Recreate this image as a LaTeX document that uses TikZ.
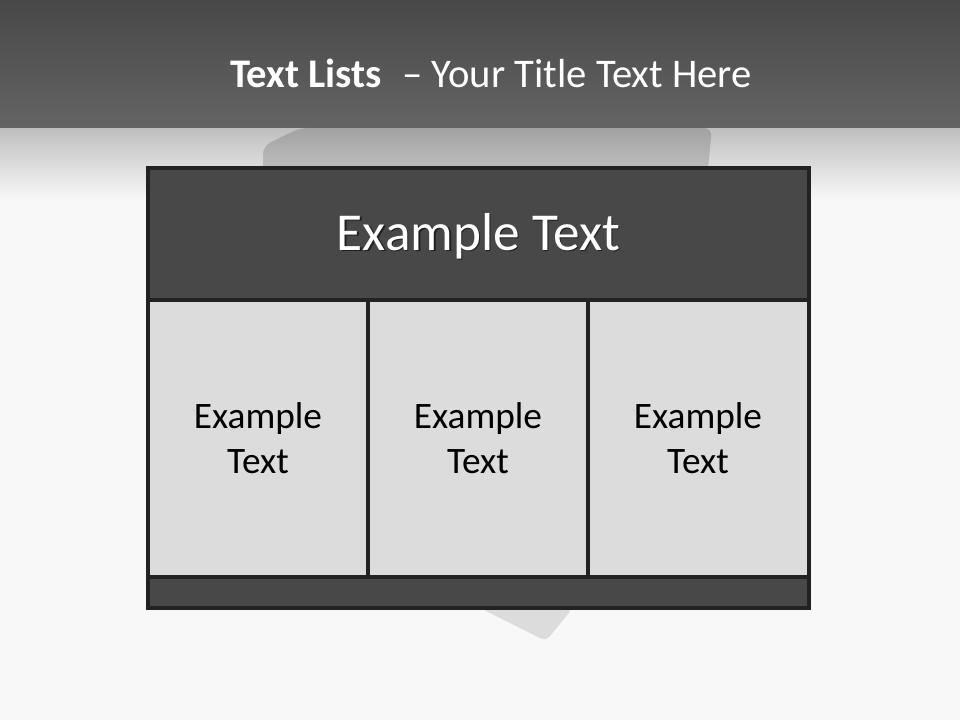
\documentclass[tikz,border=0pt]{standalone}
\usepackage{fontspec}
\setmainfont{Carlito}
\definecolor{bandtop}{HTML}{484848}
\definecolor{bandbot}{HTML}{646464}
\definecolor{fadetop}{HTML}{BEBEBE}
\definecolor{bgc}{HTML}{F8F8F8}
\definecolor{darkfill}{HTML}{484848}
\definecolor{lightfill}{HTML}{DCDCDC}
\definecolor{edgec}{HTML}{222222}
\tikzset{
  darkcell/.style={fill=darkfill},
  lightcell/.style={fill=lightfill},
  gridline/.style={draw=edgec, line width=2.4pt},
  headtxt/.style={text=white, font=\fontsize{40}{48}\selectfont, inner sep=0pt},
  celltxt/.style={text=black, font=\fontsize{28}{33.75}\selectfont, align=center, inner sep=0pt},
  titletxt/.style={text=white, font=\fontsize{30.5}{36}\selectfont, inner sep=0pt, anchor=base}
}
\begin{document}
\begin{tikzpicture}[x=0.75pt,y=-0.75pt]
\useasboundingbox (0,0) rectangle (960,720);
% background
\fill[bgc] (0,0) rectangle (960,720);
\shade[top color=fadetop, bottom color=bgc] (0,127) rectangle (960,200);
\shade[top color=bandtop, bottom color=bandbot] (0,0) rectangle (960,128);
% faint shapes behind the table
\fill[black, opacity=0.15, rounded corners=6pt] (263,200) -- (263,146) -- (300,128) -- (712,128) -- (705,200) -- cycle;
\fill[black, opacity=0.11, rounded corners=4pt] (482,609) -- (546,641) -- (572,609) -- cycle;
% title
\node[titletxt] (title) at (491,88) {\textbf{Text Lists}\hspace{0.5em}– Your Title Text Here};
% table fills
\fill[darkcell] (148,168) rectangle (809,300);
\fill[lightcell] (148,300) rectangle (809,577);
\fill[darkcell] (148,577) rectangle (809,608);
% grid lines
\draw[gridline] (148,168) rectangle (809,608);
\draw[gridline] (148,300) -- (809,300);
\draw[gridline] (148,577) -- (809,577);
\draw[gridline] (368,300) -- (368,577);
\draw[gridline] (588,300) -- (588,577);
% header text with shadow
\node[headtxt, text=black, opacity=0.55, anchor=base] (headshadow) at (480,252) {Example Text};
\node[headtxt, anchor=base] (head) at (478.5,250.5) {Example Text};
% cell texts
\node[celltxt] (c1) at (258,438) {Example\\Text};
\node[celltxt] (c2) at (478,438) {Example\\Text};
\node[celltxt] (c3) at (698,438) {Example\\Text};
\end{tikzpicture}
\end{document}
